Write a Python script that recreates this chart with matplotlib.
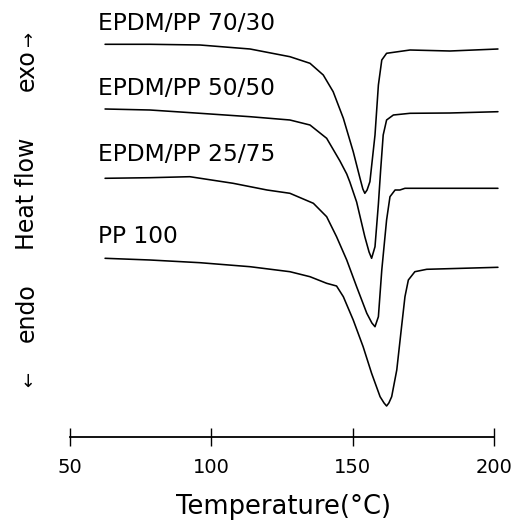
import matplotlib
matplotlib.use("Agg")
import matplotlib.pyplot as plt

# DSC heating scans (heat flow in arbitrary units, curves stacked by offset)
t_7030 = [62.4, 78.3, 96.0, 113.7, 127.8, 134.9, 139.6, 143.1, 146.7, 150.2, 152.6,
          153.6, 154.3, 155.1, 156.1, 157.9, 159.1, 160.3, 162.0, 170.3, 184.4, 201.4]
q_7030 = [39.27, 39.27, 39.2, 38.8, 38.03, 37.37, 36.2, 34.53, 31.87, 28.53, 25.87,
          24.8, 24.37, 24.7, 25.53, 30.2, 35.2, 37.7, 38.37, 38.7, 38.6, 38.8]

t_5050 = [62.4, 78.3, 96.0, 113.7, 127.8, 134.9, 140.8, 145.5, 147.9, 149.0, 151.4, 154.3,
          155.8, 156.7, 157.9, 159.1, 159.9, 160.8, 162.0, 164.4, 170.3, 184.4, 201.4]
q_5050 = [32.8, 32.7, 32.37, 32.03, 31.7, 31.2, 29.87, 27.6, 26.3, 25.5, 23.5, 20.03,
          18.5, 17.87, 19.03, 23.3, 26.7, 30.2, 31.7, 32.2, 32.37, 32.4, 32.53]

t_2575 = [62.4, 78.3, 92.4, 107.7, 119.7, 127.8, 136.1, 140.8, 144.3, 147.9, 151.4, 155.0,
          156.8, 157.9, 159.1, 160.3, 162.0, 163.2, 165.0, 166.7, 168.5, 177.3, 201.4]
q_2575 = [25.87, 25.93, 26.03, 25.37, 24.7, 24.37, 23.37, 22.03, 20.03, 17.7, 15.03, 12.37,
          11.4, 11.03, 12.03, 16.7, 21.7, 24.03, 24.7, 24.7, 24.87, 24.87, 24.87]

t_pp = [62.4, 78.3, 96.0, 113.7, 127.8, 134.9, 140.8, 144.3, 146.7, 150.2, 153.7, 156.7,
        159.7, 161.1, 162.0, 162.8, 163.8, 165.6, 167.3, 168.5, 169.7, 172.0, 176.2, 201.4]
q_pp = [17.87, 17.7, 17.43, 17.03, 16.53, 16.03, 15.37, 15.1, 14.03, 11.7, 9.03, 6.37,
        4.03, 3.4, 3.1, 3.4, 4.03, 6.7, 11.03, 14.03, 15.7, 16.53, 16.77, 16.97]

curve_names = ["EPDM/PP 70/30", "EPDM/PP 50/50", "EPDM/PP 25/75", "PP 100"]
x_ticks = [50, 100, 150, 200]

fig = plt.figure(figsize=(5.28, 5.23), dpi=100)
W, H = 528, 523
ax = fig.add_axes([70 / W, (H - 437) / H, 424 / W, 417 / H])

for t, q in [(t_7030, q_7030), (t_5050, q_5050), (t_2575, q_2575), (t_pp, q_pp)]:
    ax.plot(t, q, color="black", lw=1.15, clip_on=False,
            solid_joinstyle="round", solid_capstyle="round")

# curve captions
label_x = 60.0
label_y = [40.7, 34.2, 27.6, 19.4]
for name, y in zip(curve_names, label_y):
    ax.text(label_x, y, name, fontsize=16.8, va="baseline", ha="left")

ax.set_xlim(50, 200)
ax.set_ylim(0, 41.7)
ax.set_xticks(x_ticks)
ax.set_xticklabels([str(v) for v in x_ticks])
ax.tick_params(axis="x", direction="inout", length=13.5, width=1.0, pad=8.5, labelsize=14)
ax.set_yticks([])
for side in ("left", "top", "right"):
    ax.spines[side].set_visible(False)
ax.spines["bottom"].set_linewidth(1.3)

# x axis title
fig.text(283 / W, (H - 514) / H, "Temperature(\u00b0C)", fontsize=18.5,
         ha="center", va="baseline")

# vertical heat-flow legend
for s, yc, fs in [("\u2192", 38, 13), ("exo", 70, 17), ("Heat flow", 194, 17),
                  ("endo", 313, 17), ("\u2190", 379, 13)]:
    fig.text(34 / W, (H - yc) / H, s, fontsize=fs, rotation=90, rotation_mode="anchor",
             ha="center", va="baseline")

fig.savefig("out.png", dpi=100)
